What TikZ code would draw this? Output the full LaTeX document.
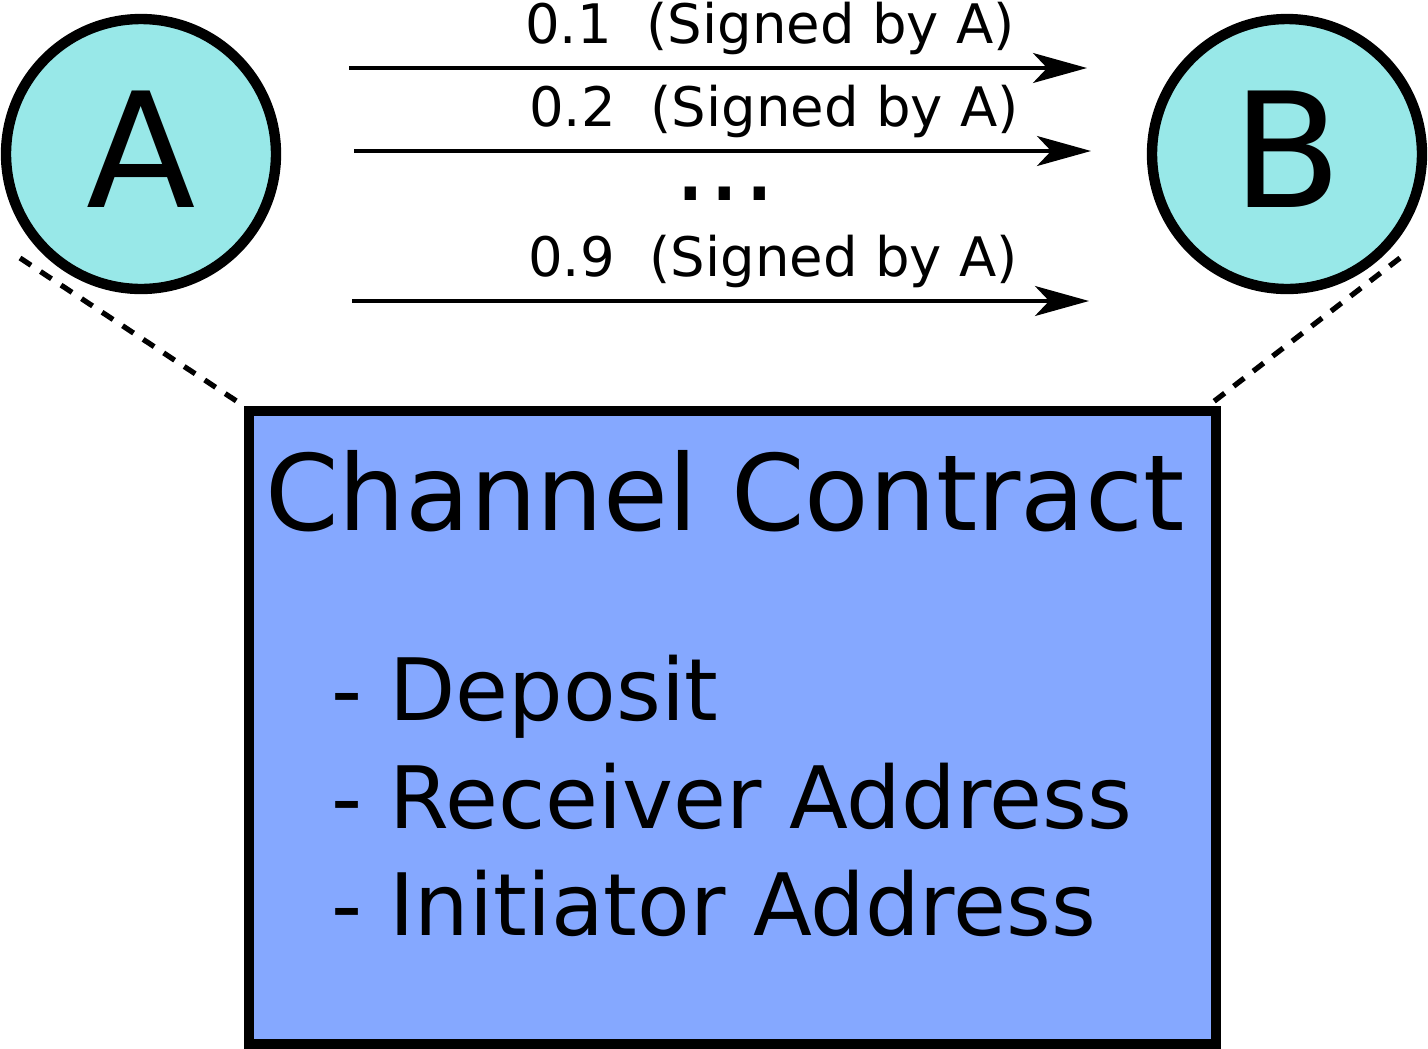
\documentclass[tikz,border=0pt]{standalone}
\usepackage{fontspec}
\setmainfont{DejaVu Sans}
\usetikzlibrary{arrows.meta}
\definecolor{peercyan}{HTML}{98E8E8}
\definecolor{contractblue}{HTML}{85A8FF}

\begin{document}
\begin{tikzpicture}[x=0.02cm,y=-0.02cm,
    peer/.style={circle,draw,line width=5.9pt,fill=peercyan,minimum size=5.4cm,inner sep=0pt,text depth=0.2cm,font=\fontsize{91}{91}\selectfont},
    contractbox/.style={rectangle,draw,line width=5.7pt,fill=contractblue,minimum width=19.34cm,minimum height=12.66cm,inner sep=0pt},
    payment/.style={line width=2.3pt,-{Stealth[length=30.7pt,width=17pt,inset=8pt]}},
    tether/.style={line width=3pt,dash pattern=on 7.5pt off 6.5pt},
    paylabel/.style={anchor=base,inner sep=1pt,font=\fontsize{31}{31}\selectfont},
    field/.style={anchor=base west,font=\fontsize{49}{50}\selectfont}]
    \useasboundingbox (0,0) rectangle (1428,1049);

    \node (A) at (141,154) [peer]{A};
    \node (B) at (1287,154) [peer]{B};
    \node (contract) at (732.5,727.5) [contractbox]{};

    % payments from A to B
    \coordinate (p1s) at (349,68);
    \coordinate (p1e) at (1087,68);
    \coordinate (p2s) at (354,151);
    \coordinate (p2e) at (1091,151);
    \coordinate (p9s) at (352,301);
    \coordinate (p9e) at (1089,301);
    \draw [payment] (p1s) to (p1e);
    \draw [payment] (p2s) to (p2e);
    \draw [payment] (p9s) to (p9e);
    \node (l1) at (770,43) [paylabel]{0.1\ \ (Signed by A)};
    \node (l2) at (774,126) [paylabel]{0.2\ \ (Signed by A)};
    \node (dots) at (725,200) [anchor=base,inner sep=0pt,font=\fontsize{62}{62}\selectfont]{...};
    \node (l9) at (773,276) [paylabel]{0.9\ \ (Signed by A)};

    % both peers tied to the contract
    \coordinate (tA) at (20,258);
    \coordinate (tB) at (1400,258);
    \draw [tether] (tA) to (contract.north west);
    \draw [tether] (tB) to ([xshift=-0.26cm]contract.north east);

    \node (title) at (725,530) [anchor=base,font=\fontsize{60}{61}\selectfont]{Channel Contract};
    \node (f1) at (325,720) [field]{- Deposit};
    \node (f2) at (325,828) [field]{- Receiver Address};
    \node (f3) at (325,935) [field]{- Initiator Address};
\end{tikzpicture}
\end{document}
